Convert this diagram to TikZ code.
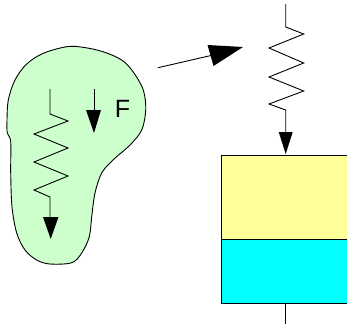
\documentclass[tikz,border=0pt]{standalone}
\usepackage{fontspec}
\setmainfont{Liberation Sans}
\definecolor{blobgreen}{RGB}{204,255,204}
\definecolor{boxyellow}{RGB}{255,255,153}
\definecolor{boxcyan}{RGB}{0,255,255}
\tikzset{
  wire/.style={draw=black,line width=0.9pt,line join=miter},
  head/.style={fill=black,draw=none},
  box/.style={draw=black,line width=1pt}
}
\begin{document}
\begin{tikzpicture}[x=1pt,y=-1pt]
\useasboundingbox (0,0) rectangle (347,324);
% blob
\draw[wire,fill=blobgreen] plot[smooth cycle,tension=0.55] coordinates {
(66.7,46.7)(43.3,53.3)(26.7,64)(15,80)(8.3,100)(7,120)(7.3,133)(10.7,141.7)(10.7,173)(12,206.7)(16.7,233)(25,250)(36.7,260)(50,264)(71.7,262.7)(81.7,253)(89.3,236.7)(91.7,216.7)(95,193)(101.7,173)(113,160)(130,145)(141.7,130)(145.7,110)(143.3,90)(133,71.7)(121.7,60)(103,51.7)(83,47.3)};
% left spring
\draw[wire] (50,89)--(50,114)--(68,121)--(34,134)--(68,148)--(34,162)--(68,176)--(34,190)--(50,197)--(50,218);
\fill[head] (43,217)--(58.5,217)--(50.7,239)--cycle;
% short arrow
\draw[wire] (94,89)--(94,111);
\fill[head] (86,110)--(101,110)--(94,133)--cycle;
\node (f) at (122.5,109) {\fontsize{25}{25}\selectfont F};
% big arrow
\coordinate (as) at (158,67.7);
\coordinate (ae) at (211,55.5);
\draw[wire] (as)--(ae);
\fill[head] (207.5,45)--(243,47)--(213.5,66)--cycle;
% boxes
\path[fill=boxyellow] (221.5,155) rectangle (348,239);
\path[fill=boxcyan] (221.5,239) rectangle (348,303);
\draw[box] (348,155)--(221.5,155)--(221.5,303)--(348,303);
\draw[box] (221.5,239)--(348,239);
% right spring
\draw[wire] (285.7,4)--(285.7,27)--(303.7,34)--(269,48)--(303.7,63)--(269,77)--(303.7,91)--(269,104)--(285.7,110)--(285.7,133);
\fill[head] (278.7,132)--(292.7,132)--(285.7,154)--cycle;
\coordinate (st) at (285.7,303);
\coordinate (sb) at (285.7,324);
\draw[wire] (st)--(sb);
\end{tikzpicture}
\end{document}
